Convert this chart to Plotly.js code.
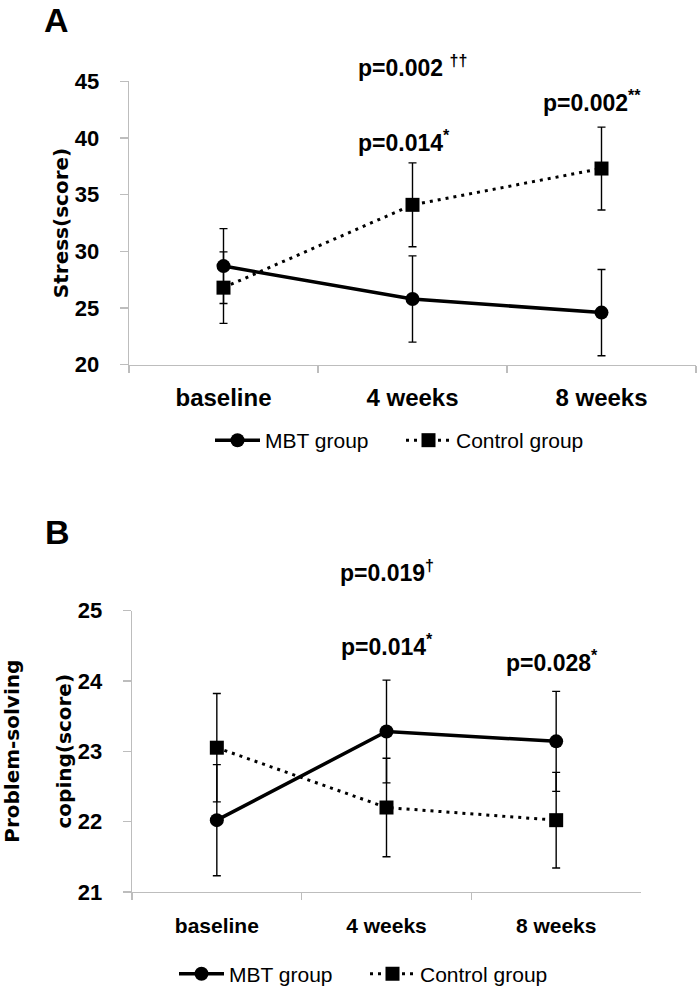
<!DOCTYPE html>
<html>
<head>
<meta charset="utf-8">
<script src="https://cdn.plot.ly/plotly-3.0.1.min.js"></script>
<style>
  html, body { margin: 0; padding: 0; background: #fff; }
  #chart { width: 700px; height: 995px; }
</style>
</head>
<body>
<div id="chart"></div>
<script>
// ---- data ----
const categories = ['baseline', '4 weeks', '8 weeks'];
const groupNames = ['MBT group', 'Control group'];

// Panel A: Stress (score)
const stressMBT = [28.7, 25.8, 24.6];
const stressMBTsd = [3.3, 3.8, 3.8];
const stressControl = [26.8, 34.1, 37.3];
const stressControlSd = [3.15, 3.7, 3.65];

// Panel B: Problem-solving coping (score)
const copingMBT = [22.02, 23.28, 23.14];
const copingMBTsd = [0.79, 0.73, 0.71];
const copingControl = [23.05, 22.2, 22.02];
const copingControlSd = [0.77, 0.70, 0.68];

// p-value annotations
const stressPLabels = ['p=0.002 <sup>††</sup>', 'p=0.014<sup>*</sup>', 'p=0.002<sup>**</sup>'];
const copingPLabels = ['p=0.019<sup>†</sup>', 'p=0.014<sup>*</sup>', 'p=0.028<sup>*</sup>'];

// ---- styles ----
const W = 700, H = 995;
const axisGray = '#bdbdbd';
const SANS = 'Liberation Sans, Arial, sans-serif';
const yTickFont = { family: SANS, size: 22, color: '#000', weight: 'bold' };
const xTickFontA = { family: SANS, size: 24, color: '#000', weight: 'bold' };
const xTickFontB = { family: SANS, size: 21, color: '#000', weight: 'bold' };
const titleFont = { family: 'DejaVu Sans, Verdana, sans-serif', size: 20, color: '#000', weight: 'bold' };
const pFont = { family: SANS, size: 23, color: '#000', weight: 'bold' };
const legendFont = { family: SANS, size: 21, color: '#000' };

function errBar(arr) {
  return { type: 'data', array: arr, visible: true, color: '#000', thickness: 1.4, width: 4 };
}
function mbtTrace(y, sd, xa, ya, leg) {
  return {
    type: 'scatter', mode: 'lines+markers', name: groupNames[0],
    x: categories, y: y, xaxis: xa, yaxis: ya, legend: leg,
    line: { color: '#000', width: 3.5 },
    marker: { symbol: 'circle', size: 14, color: '#000' },
    error_y: errBar(sd), cliponaxis: false
  };
}
function ctlTrace(y, sd, xa, ya, leg) {
  return {
    type: 'scatter', mode: 'lines+markers', name: groupNames[1],
    x: categories, y: y, xaxis: xa, yaxis: ya, legend: leg,
    line: { color: '#000', width: 3, dash: '3px,5px' },
    marker: { symbol: 'square', size: 14, color: '#000' },
    error_y: errBar(sd), cliponaxis: false
  };
}

const traces = [
  mbtTrace(stressMBT, stressMBTsd, 'x', 'y', 'legend'),
  ctlTrace(stressControl, stressControlSd, 'x', 'y', 'legend'),
  mbtTrace(copingMBT, copingMBTsd, 'x2', 'y2', 'legend2'),
  ctlTrace(copingControl, copingControlSd, 'x2', 'y2', 'legend2')
];

function xAxis(domain, anchor, font, standoff) {
  return {
    domain: domain, anchor: anchor, type: 'category',
    categoryorder: 'array', categoryarray: categories,
    range: [-0.5, 2.5], tickson: 'boundaries',
    showline: true, linecolor: axisGray, linewidth: 1.3,
    ticks: 'outside', ticklen: 7, tickcolor: axisGray, tickwidth: 1.3,
    showgrid: false, zeroline: false, tickfont: font,
    ticklabelstandoff: standoff, fixedrange: true
  };
}
function yAxis(domain, anchor, range, dtick, title, standoff) {
  return {
    domain: domain, anchor: anchor, range: range, dtick: dtick, tick0: range[0],
    showline: true, linecolor: axisGray, linewidth: 1.3,
    ticks: 'outside', ticklen: 8, tickcolor: axisGray, tickwidth: 1.3,
    showgrid: false, zeroline: false, tickfont: yTickFont,
    ticklabelstandoff: 16,
    title: { text: title, font: titleFont, standoff: standoff }, fixedrange: true
  };
}

const px = v => v / W;
const py = v => 1 - v / H;

function pNote(text, xref, cat, yPix, xshift) {
  return { text: text, xref: xref, x: cat, yref: 'paper', y: py(yPix), xshift: xshift,
           xanchor: 'center', yanchor: 'middle', showarrow: false, font: pFont };
}

const annotations = [
  { text: '<b>A</b>', xref: 'paper', yref: 'paper', x: px(56), y: py(20), xanchor: 'center', yanchor: 'middle',
    showarrow: false, font: { family: SANS, size: 34, color: '#000' } },
  { text: '<b>B</b>', xref: 'paper', yref: 'paper', x: px(57), y: py(537), xanchor: 'center', yanchor: 'middle',
    showarrow: false, font: { family: SANS, size: 34, color: '#000' } },
  pNote(stressPLabels[0], 'x', categories[1], 67, 0),
  pNote(stressPLabels[1], 'x', categories[1], 142, -9),
  pNote(stressPLabels[2], 'x', categories[2], 102, -10),
  pNote(copingPLabels[0], 'x2', categories[1], 577, 0),
  pNote(copingPLabels[1], 'x2', categories[1], 652, 0),
  pNote(copingPLabels[2], 'x2', categories[2], 668, -4)
];

const layout = {
  width: W, height: H,
  margin: { l: 0, r: 0, t: 0, b: 0 },
  paper_bgcolor: '#fff', plot_bgcolor: '#fff',
  xaxis: xAxis([px(129), px(696)], 'y', xTickFontA, 11),
  yaxis: yAxis([py(368.5), py(82)], 'x', [20, 45], 5, 'Stress(score)', 0),
  xaxis2: xAxis([px(132), px(641)], 'y2', xTickFontB, 15),
  yaxis2: yAxis([py(901), py(616.7)], 'x2', [21, 25], 1, 'Problem-solving<br><br>coping(score)', 2),
  legend: {
    orientation: 'h', x: px(401), xanchor: 'center', y: py(445), yanchor: 'middle',
    font: legendFont, bgcolor: 'rgba(0,0,0,0)', itemwidth: 45,
    entrywidth: 131, entrywidthmode: 'pixels'
  },
  legend2: {
    orientation: 'h', x: px(365), xanchor: 'center', y: py(984), yanchor: 'middle',
    font: legendFont, bgcolor: 'rgba(0,0,0,0)', itemwidth: 45,
    entrywidth: 131, entrywidthmode: 'pixels'
  },
  annotations: annotations,
  showlegend: true
};

Plotly.newPlot('chart', traces, layout, { displayModeBar: false, staticPlot: true });
</script>
</body>
</html>
